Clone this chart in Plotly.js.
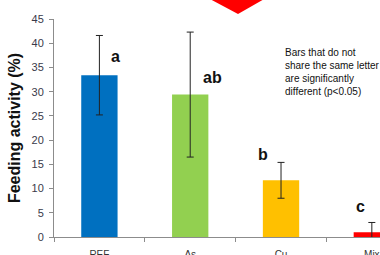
<!DOCTYPE html>
<html>
<head>
<meta charset="utf-8">
<script src="https://cdn.plot.ly/plotly-3.0.1.min.js"></script>
<style>html,body{margin:0;padding:0;overflow:hidden;background:#fff}#chart{width:380px;height:255px}</style>
</head>
<body>
<div id="chart"></div>
<script>
var categories = ["REF", "As", "Cu", "Mix"];
var feeding = [33.4, 29.4, 11.7, 1.0];
var errors = [8.2, 12.9, 3.7, 2.0];
var colors = ["#0070C0", "#92D050", "#FFC000", "#FF0000"];
var letters = ["a", "ab", "b", "c"];
var letterX = [0.18, 1.245, 1.80, 2.88];
var letterY = [37.2, 33.0, 17.1, 6.2];
var yTicks = [0, 5, 10, 15, 20, 25, 30, 35, 40, 45];

var trace = {
  type: "bar",
  x: categories,
  y: feeding,
  marker: {color: colors, line: {width: 0}},
  width: 0.4,
  error_y: {type: "data", array: errors, visible: true, color: "#222", thickness: 1, width: 3.5},
  hoverinfo: "none"
};

var annotations = letters.map(function (t, i) {
  return {x: letterX[i], y: letterY[i], xref: "x", yref: "y", text: "<b>" + t + "</b>",
    showarrow: false, font: {family: "Liberation Sans, Arial", size: 16, color: "#111"}};
});
annotations.push({
  xref: "paper", yref: "paper", x: (283 - 54) / 326, y: (237 - 45) / 218,
  xanchor: "left", yanchor: "top", align: "left", showarrow: false,
  text: "Bars that do not<br>share the same letter<br>are significantly<br>different (p<0.05)",
  font: {family: "Liberation Sans, Arial", size: 10, color: "#111"}
});

var layout = {
  width: 380, height: 255,
  margin: {l: 54, r: 0, t: 19, b: 18},
  paper_bgcolor: "#fff", plot_bgcolor: "#fff",
  showlegend: false,
  xaxis: {
    type: "category", range: [-0.5, 3.09], showgrid: false, zeroline: false,
    showline: true, linecolor: "#8c8c8c", linewidth: 1,
    ticks: "outside", tickson: "boundaries", ticklen: 4, tickcolor: "#8c8c8c",
    ticklabelstandoff: 8,
    tickfont: {family: "Liberation Sans, Arial", size: 10, color: "#333"}
  },
  yaxis: {
    range: [0, 45], tickvals: yTicks, showgrid: false, zeroline: false,
    showline: true, linecolor: "#8c8c8c", linewidth: 1,
    ticks: "outside", ticklen: 4, tickcolor: "#8c8c8c",
    ticklabelstandoff: 3,
    tickfont: {family: "Liberation Sans, Arial", size: 11, color: "#3a3a4a"},
    title: {text: "<b>Feeding activity (%)</b>", standoff: 6,
      font: {family: "Liberation Sans, Arial", size: 16, color: "#111"}}
  },
  shapes: [{
    type: "path", xref: "paper", yref: "paper",
    path: "M " + ((208 - 54) / 326) + " " + ((237 + 2) / 218) + " L " + ((266 - 54) / 326) + " " + ((237 + 2) / 218) +
      " L " + ((238 - 54) / 326) + " " + ((237 - 14) / 218) + " Z",
    fillcolor: "#FF0000", line: {width: 0}
  }],
  annotations: annotations
};

Plotly.newPlot("chart", [trace], layout, {displayModeBar: false, staticPlot: true});
</script>
</body>
</html>
